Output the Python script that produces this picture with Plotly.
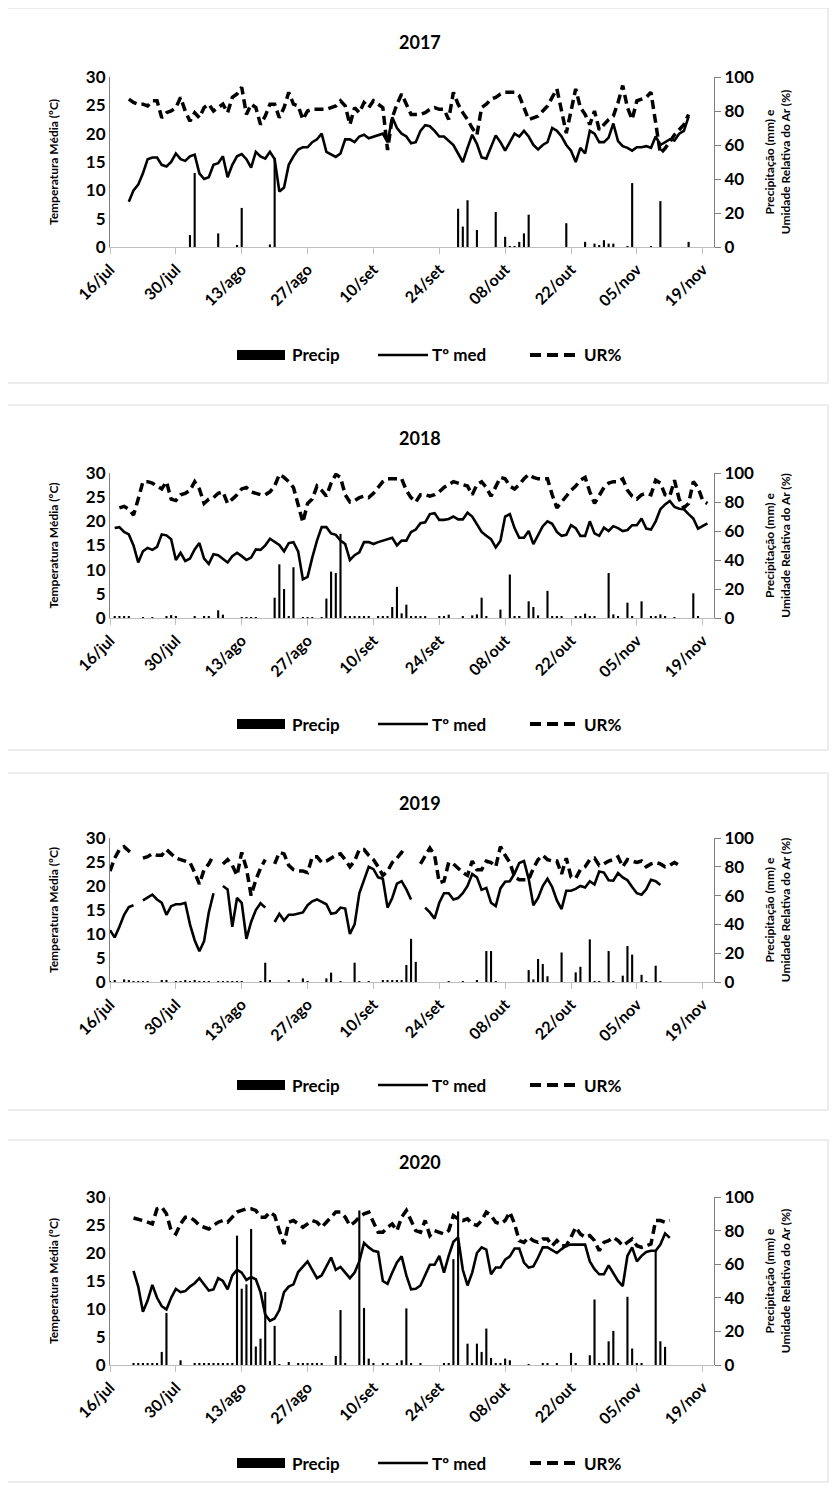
import datetime as dt
import plotly.graph_objects as go

# ---------------- DATA ----------------
years = ["2017", "2018", "2019", "2020"]
tick_labels = ["16/jul", "30/jul", "13/ago", "27/ago", "10/set", "24/set",
               "08/out", "22/out", "05/nov", "19/nov"]
series_names = ["Precip", "Tº med", "UR%"]

temp_2017_start = 4
temp_2017 = [8, 10, 11, 13, 15.5, 15.8, 15.8, 14.5, 14.2, 15, 16.5, 15.5, 15.2, 16, 16.3, 13, 12, 12.3,
             14.5, 14.8, 16, 12.3, 14.5, 16, 16.4, 15.5, 14, 16.8, 16, 15.6, 16.8, 15.5, 9.8, 10.5, 14.5,
             16, 17.2, 17.6, 17.6, 18.5, 19, 20, 16.8, 16.3, 15.9, 16.5, 19, 19, 18.5, 19.5, 19.8, 19.2,
             19.5, 19.8, 20, 18.5, 22.9, 21, 20, 19.5, 18.3, 18.5, 20.5, 21.5, 21.3, 20.5, 19.5, 19.5,
             18.7, 18, 16.5, 15, 17.5, 19.8, 18.2, 15.8, 15.6, 17.5, 19.7, 18.5, 17, 18.5, 20, 19.5, 20.5,
             19.5, 18, 17.2, 18, 18.5, 21, 20.5, 19.5, 18, 17, 15, 17.5, 16.5, 20.5, 20, 18.5, 18.5, 19.3,
             21.8, 18.7, 17.8, 17.5, 17, 17.6, 17.6, 17.8, 17.5, 19.5, 18, 18.5, 19, 18.8, 20, 20.5, 23]
ur_2017_start = 4
ur_2017 = [87, 85, 84, 84, 83, 86, 86, 76, 79, 80, 82, 88, 80, 74, 79, 76, 82, 84, 80, 82, 84, 79, 88,
           90, 94, 78, 84, 82, 72, 77, 84, 84, 76, 82, 91, 84, 83, 75, 80, 81, 81, 81, 81, 82, 83, 86,
           83, 72, 82, 79, 85, 82, 86, 84, 82, 57, 76, 84, 90, 84, 78, 78, 78, 79, 81, 82, 81, 81, 75,
           91, 84, 79, 75, 70, 66, 82, 84, 87, 88, 90, 91, 91, 91, 89, 82, 75, 76, 77, 80, 83, 88, 93,
           80, 67, 80, 93, 82, 78, 72, 80, 69, 72, 75, 77, 85, 95, 82, 75, 86, 87, 88, 91, 72, 55, 58,
           62, 66, 69, 72, 78]
prec_2017_days = [17, 18, 23, 27, 28, 34, 35, 74, 75, 76, 78, 82, 84, 85, 86, 87, 88, 89, 97, 101, 103,
                  104, 105, 106, 107, 110, 111, 115, 117, 123]
prec_2017 = [7, 43.5, 8, 1, 23, 1.5, 52.5, 22.5, 12, 27.5, 10, 20.6, 6, 0.5, 0.5, 3, 8, 19, 14, 3, 2,
             1, 4, 2, 2, 0.5, 37.6, 0.5, 27, 3]

temp_2018_start = 1
temp_2018 = [18.6, 18.8, 17.8, 17.3, 15, 11.5, 13.8, 14.5, 14.1, 14.7, 17.3, 17.1, 16.3, 12, 13.5, 11.8,
             12.3, 14.2, 15.5, 12.3, 11.2, 13.2, 13, 12.2, 11.5, 12.8, 13.5, 12.8, 12, 12.5, 14.2, 14.1,
             15, 16.4, 15.8, 15.1, 13.8, 15.5, 15.7, 13.8, 8, 8.5, 12.5, 16, 18.8, 18.8, 17.5, 17.2, 16,
             15.3, 12, 13, 13.6, 15.7, 15.7, 15.3, 15.7, 16, 16.3, 16.6, 15, 16, 16, 17.8, 18.3, 19.6,
             19.8, 21.5, 21.7, 20.3, 20.3, 20.5, 21, 20.4, 20.4, 21.8, 21, 19.5, 17.8, 17, 16.3, 14.6, 16,
             21, 21.5, 18.6, 16.6, 16.6, 18, 15.3, 17, 19, 20, 19.5, 17.8, 17, 17.2, 19.2, 18.6, 17, 17,
             20, 17.5, 17, 18.7, 18, 19, 18.6, 18, 18.2, 19.2, 19.2, 20.6, 18.5, 18.3, 20, 22.5, 23.5,
             24.2, 23, 22.6, 22.5, 21.5, 20.6, 18.5, 19, 19.6]
ur_2018_start = 2
ur_2018 = [76, 77, 75, 71, 82, 94, 94, 93, 91, 89, 94, 82, 81, 85, 86, 88, 94, 89, 79, 82, 83, 86, 87,
           79, 82, 85, 89, 90, 87, 86, 85, 85, 87, 91, 99, 97, 94, 90, 78, 66, 79, 82, 91, 88, 84, 93,
           99, 97, 85, 80, 81, 83, 84, 83, 86, 90, 94, 96, 96, 96, 96, 88, 83, 80, 85, 85, 84, 85, 87,
           90, 92, 94, 93, 92, 91, 85, 92, 94, 90, 84, 90, 97, 96, 91, 89, 92, 96, 99, 97, 96, 96, 96,
           85, 76, 80, 84, 88, 91, 95, 97, 87, 79, 85, 90, 93, 94, 94, 96, 88, 84, 82, 85, 86, 85, 95,
           93, 85, 84, 95, 82, 76, 79, 94, 90, 81, 79]
prec_2018_days = [1, 2, 3, 4, 7, 9, 12, 13, 14, 18, 20, 21, 23, 24, 28, 29, 30, 31, 35, 36, 37, 38, 39,
                  41, 42, 43, 45, 46, 47, 48, 49, 50, 51, 52, 53, 54, 55, 57, 58, 59, 60, 61, 62, 63, 64,
                  65, 66, 67, 70, 71, 72, 75, 77, 78, 79, 80, 83, 85, 86, 87, 89, 90, 91, 93, 94, 95, 96,
                  99, 100, 101, 102, 103, 106, 107, 108, 110, 111, 113, 115, 116, 117, 118, 120, 124, 125]
prec_2018 = [1.4, 0.7, 0.7, 0.7, 0.5, 0.5, 0.7, 2, 0.7, 0.7, 0.7, 0.7, 5.3, 2.3, 0.5, 0.5, 0.5, 0.5, 14,
             37, 20, 0.7, 35, 0.5, 0.5, 0.5, 0.5, 13.4, 32, 31, 58, 0.7, 0.7, 0.7, 0.7, 0.7, 0.7, 0.7,
             0.7, 0.7, 7.6, 21.5, 3.2, 9.2, 0.7, 0.7, 0.7, 0.7, 0.7, 1.2, 2.3, 0.7, 1.8, 2.5, 14, 0.7,
             5.8, 30, 0.7, 1.4, 11.5, 7.6, 1.8, 18.7, 0.7, 0.7, 0.7, 0.7, 0.7, 3, 1.4, 0.7, 31, 2.5,
             1.4, 10.6, 0.7, 11.5, 0.7, 1.4, 2.5, 0.7, 0.5, 17, 0.7]

temp_2019_start = 0
temp_2019 = [10.8, 9.3, 11.5, 14, 15.6, 16, None, 17, 17.6, 18.2, 17.2, 16.5, 14, 15.8, 16.2, 16.2, 16.5,
             12, 8.7, 6.4, 8.5, 14.5, 18.5, None, 20, 19.3, 11.5, 17.5, 16.5, 9, 12.5, 15, 16.4, 15.5,
             None, 12.5, 14.2, 12.8, 14, 14, 14.3, 14.5, 16, 16.8, 17.2, 16.7, 16.2, 14.2, 14.4, 15.5,
             15.3, 10, 12, 18.5, 21.5, 24, 23.5, 21.8, 21.5, 15.5, 17.5, 20.5, 21, 19.3, 17.2, None,
             None, 15.5, 14.5, 13.2, 16.5, 18.5, 18.5, 17.2, 17.5, 18.5, 20, 22.5, 21.8, 19.2, 19.6,
             16.5, 15.8, 19.5, 20.9, 21, 22.6, 24.8, 25.2, 21.5, 16, 17.5, 20, 21.5, 19.8, 17, 15.2, 19,
             19, 19.4, 20, 19.7, 21, 20.3, 23, 22.8, 21.2, 21.1, 22.7, 21.8, 21.2, 19.8, 18.5, 18.2,
             19.3, 21.3, 21, 20.2]
ur_2019_start = 0
ur_2019 = [77, 86, 92, 94, 91, 88, None, 86, 87, 89, 88, 88, 92, 89, 86, 85, 84, 83, 76, 68, 78, 82, 88,
           None, 82, 85, 81, 74, 90, 79, 60, 71, 79, 85, None, 82, 90, 89, 81, 78, 77, 77, 76, 87, 87,
           83, 84, 86, 88, 89, 85, 80, 84, 92, 92, 88, 85, 80, 74, 77, 83, 86, 90, 88, None, None, 82,
           88, 93, 88, 69, 70, 83, 82, 79, 76, 74, 84, 78, 78, 84, 83, 80, 94, 88, 83, 73, 71, 71, 71,
           79, 85, 88, 85, 84, 84, 75, 86, 73, 72, 78, 80, 85, 86, 81, 82, 84, 85, 87, 80, 85, 84, 83,
           84, 80, 82, 83, 82, 80, 81, 83, 81]
prec_2019_days = [0, 1, 3, 4, 5, 6, 7, 8, 11, 12, 14, 15, 16, 17, 18, 19, 20, 21, 23, 24, 25, 26, 27,
                  28, 32, 33, 34, 38, 41, 42, 46, 47, 49, 52, 53, 55, 58, 59, 60, 61, 62, 63, 64, 65, 72,
                  75, 78, 80, 81, 82, 89, 90, 91, 92, 93, 96, 99, 100, 102, 103, 104, 106, 107, 109, 110,
                  111, 113, 114, 116, 117]
prec_2019 = [0.5, 0.7, 1.8, 0.7, 0.5, 0.5, 0.5, 0.5, 0.7, 1, 0.5, 0.5, 0.7, 0.5, 1, 0.5, 0.5, 0.5, 0.5,
             0.5, 0.5, 0.5, 0.5, 0.5, 0.5, 13.4, 1, 1.4, 2.5, 0.5, 2.5, 6.5, 0.5, 13.4, 0.5, 0.5, 1.4,
             0.7, 0.7, 0.7, 0.7, 11.8, 30, 14, 0.3, 0.3, 1.4, 21.5, 21.5, 0.3, 8.3, 1.8, 16, 12.5, 4,
             20.5, 6.7, 10.6, 29.6, 0.5, 0.5, 21.5, 0.3, 4.4, 25, 19, 5, 0.5, 11.3, 0.5]

temp_2020_start = 5
temp_2020 = [16.8, 14, 9.5, 11.5, 14.3, 12, 10.5, 9.9, 12, 13.6, 13, 13.2, 14, 14.6, 15.5, 14.4, 13.3,
             13.5, 15.5, 15, 13.5, 16, 17, 16.5, 15.2, 15.7, 15.3, 13, 9, 7.9, 8.3, 9.8, 13, 14, 14.4,
             16.6, 17.5, 18.5, 17, 15.5, 16, 17.5, 19.2, 17, 17.5, 16.5, 15.5, 16.5, 18.5, 21.8, 21,
             20.4, 20.2, 15, 14.5, 16.5, 18.3, 19.4, 16, 13.5, 13.6, 14.2, 16, 17.9, 17.9, 19.5, 16.5,
             19.5, 22, 22.8, 17, 14.2, 16.5, 20, 21, 20.6, 16.2, 17.4, 17.4, 18.8, 19.4, 20.8, 20.8,
             18.3, 17.4, 17.6, 19.2, 21, 21, 20.5, 20, 20.7, 21.3, 21.5, 21.5, 21.5, 21.5, 18.5, 17.1,
             16.2, 16.2, 17.8, 16.5, 15, 14.1, 19.5, 21, 18.5, 19.5, 20.2, 20.4, 20.4, 21.5, 23.5, 22.7]
ur_2020_start = 5
ur_2020 = [87.5, 87, 86, 85, 84, 93, 94, 90, 80, 78, 84, 88, 88, 86, 83, 82, 81, 83, 85, 86, 85, 88, 91,
           92, 93, 93, 92, 88, 88, 91, 89, 80, 72, 85, 86, 84, 82, 84, 86, 85, 82, 85, 88, 91, 91, 88,
           83, 85, 88, 90, 91, 85, 79, 79, 82, 84, 80, 88, 92, 86, 80, 79, 86, 77, 80, 79, 78, 80, 89,
           87, 86, 87, 84, 83, 86, 91, 89, 85, 84, 86, 91, 84, 74, 73, 76, 74, 73, 75, 75, 71, 74, 71,
           71, 76, 82, 78, 76, 77, 74, 68, 73, 74, 76, 74, 71, 73, 75, 71, 70, 71, 72, 86, 86, 85, 86]
prec_2020_days = [5, 6, 7, 8, 9, 10, 11, 12, 15, 18, 19, 20, 21, 22, 23, 24, 25, 26, 27, 28, 29, 30, 31,
                  32, 33, 34, 35, 36, 38, 40, 41, 42, 43, 44, 45, 48, 49, 50, 53, 54, 55, 56, 58, 59, 61,
                  62, 63, 64, 66, 71, 72, 73, 74, 76, 77, 78, 79, 80, 81, 82, 83, 84, 85, 89, 92, 93, 95,
                  98, 99, 102, 103, 104, 105, 106, 107, 108, 110, 111, 112, 113, 116, 117, 118]
prec_2020 = [0.8, 0.8, 0.8, 0.8, 0.8, 0.8, 7.8, 31, 2.8, 0.8, 0.8, 0.8, 0.8, 0.8, 0.8, 0.8, 0.8, 0.8, 77,
             45.4, 48, 81, 11, 15.7, 43.4, 2.4, 23.3, 0.4, 1.8, 0.8, 0.8, 0.8, 0.8, 0.8, 0.8, 5.4, 32.7,
             0.8, 92, 34, 3.8, 0.8, 0.8, 0.8, 0.8, 2.8, 33.7, 0.8, 0.8, 0.8, 0.8, 63, 91.4, 12.7, 0.8,
             12.7, 7.8, 21.7, 4.2, 1.2, 0.8, 3.8, 2.8, 0.4, 0.8, 0.8, 0.8, 7.2, 0.8, 5.8, 39, 0.8, 0.8,
             14.1, 20.3, 0.8, 40.6, 9.8, 0.8, 0.8, 68.5, 14.1, 10.8]

data = {
    "2017": (temp_2017_start, temp_2017, ur_2017_start, ur_2017, prec_2017_days, prec_2017),
    "2018": (temp_2018_start, temp_2018, ur_2018_start, ur_2018, prec_2018_days, prec_2018),
    "2019": (temp_2019_start, temp_2019, ur_2019_start, ur_2019, prec_2019_days, prec_2019),
    "2020": (temp_2020_start, temp_2020, ur_2020_start, ur_2020, prec_2020_days, prec_2020),
}

# ---------------- LAYOUT GEOMETRY (pixels in the screenshot) ----------------
W, H = 838, 1488
OFF = 8  # page body margin
panels = {  # frame top, frame bottom, plot top, plot bottom, title y, legend y
    "2017": (8, 383, 77, 247, 42, 355),
    "2018": (405, 750, 473, 618, 438, 724),
    "2019": (773, 1110, 838, 982, 803, 1085),
    "2020": (1140, 1482, 1197, 1365, 1162, 1463),
}
PX0, PX1 = 110, 714
DASH = "9px,5px"

def day(d):
    return dt.datetime(2020, 7, 16) + dt.timedelta(days=d)

fx = lambda p: (p - OFF) / W
fy = lambda p: 1 - (p - OFF) / H

fig = go.Figure()
shapes, annotations = [], []
FONT = "Lato"
tick_vals = [day(14 * i) for i in range(len(tick_labels))]
bold = lambda s: dict(family=FONT, size=s, color="black", weight="bold")

for i, yr in enumerate(years):
    ft, fb, pt, pb, ty, ly = panels[yr]
    n = i + 1
    xa = "x" if n == 1 else f"x{n}"
    ya_l = "y" if n == 1 else f"y{2*n-1}"
    ya_r = f"y{2*n}"
    ts, tv, us, uv, pd_, pv = data[yr]

    fig.add_trace(go.Bar(x=[day(d) for d in pd_], y=pv, name=series_names[0], marker_color="black",
                         marker_line_width=0, width=0.45 * 86400000, showlegend=False,
                         xaxis=xa, yaxis=ya_r))
    fig.add_trace(go.Scatter(x=[day(ts + k) for k in range(len(tv))], y=tv, name=series_names[1],
                             mode="lines", line=dict(color="black", width=2.6), showlegend=False,
                             connectgaps=False, xaxis=xa, yaxis=ya_l))
    fig.add_trace(go.Scatter(x=[day(us + k) for k in range(len(uv))], y=uv, name=series_names[2],
                             mode="lines", line=dict(color="black", width=3.5, dash=DASH),
                             showlegend=False, connectgaps=False, xaxis=xa, yaxis=ya_r))

    xkey = "xaxis" if n == 1 else f"xaxis{n}"
    ylkey = "yaxis" if n == 1 else f"yaxis{2*n-1}"
    yrkey = f"yaxis{2*n}"
    fig.layout[xkey] = dict(domain=[fx(PX0), fx(PX1)], anchor=ya_l, automargin=False,
                            type="date", range=[day(0), day(128.4)],
                            tickvals=tick_vals, ticktext=tick_labels, tickangle=-45,
                            ticks="outside", ticklen=6, tickcolor="#bfbfbf",
                            showline=True, linecolor="#bfbfbf", showgrid=False, tickfont=bold(16))
    fig.layout[ylkey] = dict(domain=[fy(pb), fy(pt)], anchor=xa, range=[0, 30], dtick=5,
                             automargin=False, showline=True, linecolor="#7f7f7f", showgrid=False,
                             zeroline=False, ticks="", tickfont=bold(17),
                             title=dict(text="Temperatura Média (ºC)", standoff=24, font=bold(12)))
    fig.layout[yrkey] = dict(overlaying=ya_l, anchor=xa, side="right", range=[0, 100], dtick=20,
                             automargin=False, showline=True, linecolor="#7f7f7f", showgrid=False,
                             zeroline=False, ticks="outside", ticklen=6, tickcolor="#7f7f7f",
                             tickfont=bold(17),
                             title=dict(text="Precipitação (mm) e<br>Umidade Relativa do Ar (%)",
                                        standoff=12, font=bold(12)))
    shapes.append(dict(type="rect", xref="paper", yref="paper", x0=fx(7), x1=fx(828),
                       y0=fy(fb), y1=fy(ft), line=dict(color="#d9d9d9", width=1)))
    annotations.append(dict(text=yr, xref="paper", yref="paper", x=fx(420), y=fy(ty),
                            xanchor="center", yanchor="middle", showarrow=False, font=bold(18)))
    shapes.append(dict(type="rect", xref="paper", yref="paper", x0=fx(237), x1=fx(285),
                       y0=fy(ly + 5), y1=fy(ly - 5), fillcolor="black", line=dict(width=0)))
    shapes.append(dict(type="line", xref="paper", yref="paper", x0=fx(378), x1=fx(428),
                       y0=fy(ly), y1=fy(ly), line=dict(color="black", width=2.6)))
    shapes.append(dict(type="line", xref="paper", yref="paper", x0=fx(530), x1=fx(579),
                       y0=fy(ly), y1=fy(ly), line=dict(color="black", width=4, dash="11px,6px")))
    for tx, name in zip([290, 430, 582], series_names):
        annotations.append(dict(text=name, xref="paper", yref="paper", x=fx(tx), y=fy(ly),
                                xanchor="left", yanchor="middle", showarrow=False, font=bold(17)))

fig.update_layout(width=W, height=H, margin=dict(l=0, r=0, t=0, b=0, autoexpand=False),
                  paper_bgcolor="white", plot_bgcolor="white", barmode="overlay",
                  shapes=shapes, annotations=annotations, showlegend=False)
fig.write_html("out.html")
